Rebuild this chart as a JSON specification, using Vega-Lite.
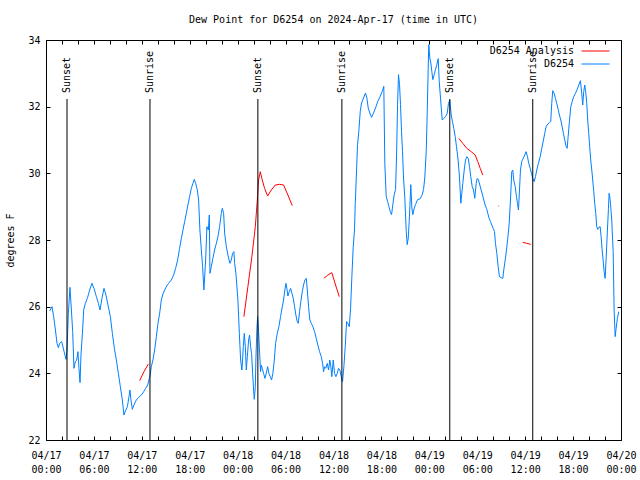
{
"$schema":"https://vega.github.io/schema/vega-lite/v6.json",
"width":575,"height":400,
"autosize":{"type":"none"},
"padding":{"left":46,"top":40,"right":19,"bottom":40},
"background":"white",
"title":{"text":"Dew Point for D6254 on 2024-Apr-17 (time in UTC)","font":"DejaVu Sans Mono","fontSize":10,"fontWeight":"normal","color":"black","offset":10,"anchor":"middle"},
"datasets":{
"sun":[{"hour":2.63,"event":"Sunset"},{"hour":13.02,"event":"Sunrise"},{"hour":26.53,"event":"Sunset"},{"hour":37.05,"event":"Sunrise"},{"hour":50.56,"event":"Sunset"},{"hour":60.95,"event":"Sunrise"}],
"analysis":[
{"hour":11.73,"dewpoint":23.78,"series":"D6254 Analysis","segment":"A"},{"hour":12.27,"dewpoint":24.05,"series":"D6254 Analysis","segment":"A"},{"hour":12.82,"dewpoint":24.28,"series":"D6254 Analysis","segment":"A"},
{"hour":24.78,"dewpoint":25.7,"series":"D6254 Analysis","segment":"B"},{"hour":25.28,"dewpoint":26.6,"series":"D6254 Analysis","segment":"B"},{"hour":25.78,"dewpoint":27.5,"series":"D6254 Analysis","segment":"B"},{"hour":26.21,"dewpoint":28.4,"series":"D6254 Analysis","segment":"B"},{"hour":26.46,"dewpoint":29.2,"series":"D6254 Analysis","segment":"B"},{"hour":26.62,"dewpoint":29.8,"series":"D6254 Analysis","segment":"B"},{"hour":26.83,"dewpoint":30.05,"series":"D6254 Analysis","segment":"B"},{"hour":27.08,"dewpoint":29.8,"series":"D6254 Analysis","segment":"B"},{"hour":27.37,"dewpoint":29.55,"series":"D6254 Analysis","segment":"B"},{"hour":27.75,"dewpoint":29.32,"series":"D6254 Analysis","segment":"B"},{"hour":28.21,"dewpoint":29.5,"series":"D6254 Analysis","segment":"B"},{"hour":28.71,"dewpoint":29.65,"series":"D6254 Analysis","segment":"B"},{"hour":29.25,"dewpoint":29.67,"series":"D6254 Analysis","segment":"B"},{"hour":29.75,"dewpoint":29.65,"series":"D6254 Analysis","segment":"B"},{"hour":30.29,"dewpoint":29.35,"series":"D6254 Analysis","segment":"B"},{"hour":30.84,"dewpoint":29.03,"series":"D6254 Analysis","segment":"B"},
{"hour":34.79,"dewpoint":26.85,"series":"D6254 Analysis","segment":"C"},{"hour":35.29,"dewpoint":26.95,"series":"D6254 Analysis","segment":"C"},{"hour":35.79,"dewpoint":27.02,"series":"D6254 Analysis","segment":"C"},{"hour":36.26,"dewpoint":26.65,"series":"D6254 Analysis","segment":"C"},{"hour":36.72,"dewpoint":26.3,"series":"D6254 Analysis","segment":"C"},
{"hour":51.69,"dewpoint":31.05,"series":"D6254 Analysis","segment":"D"},{"hour":52.19,"dewpoint":30.9,"series":"D6254 Analysis","segment":"D"},{"hour":52.69,"dewpoint":30.75,"series":"D6254 Analysis","segment":"D"},{"hour":53.24,"dewpoint":30.65,"series":"D6254 Analysis","segment":"D"},{"hour":53.74,"dewpoint":30.55,"series":"D6254 Analysis","segment":"D"},{"hour":54.07,"dewpoint":30.35,"series":"D6254 Analysis","segment":"D"},{"hour":54.37,"dewpoint":30.15,"series":"D6254 Analysis","segment":"D"},{"hour":54.69,"dewpoint":29.95,"series":"D6254 Analysis","segment":"D"},
{"hour":56.66,"dewpoint":29.02,"series":"D6254 Analysis","segment":"E"},{"hour":56.74,"dewpoint":29.02,"series":"D6254 Analysis","segment":"E"},
{"hour":59.70,"dewpoint":27.93,"series":"D6254 Analysis","segment":"F"},{"hour":60.20,"dewpoint":27.9,"series":"D6254 Analysis","segment":"F"},{"hour":60.70,"dewpoint":27.87,"series":"D6254 Analysis","segment":"F"}
],
"obs":[
{"hour":0.46,"dewpoint":25.87,"series":"D6254"},{"hour":0.75,"dewpoint":26.0,"series":"D6254"},{"hour":0.96,"dewpoint":25.7,"series":"D6254"},{"hour":1.18,"dewpoint":25.3,"series":"D6254"},{"hour":1.38,"dewpoint":24.9,"series":"D6254"},{"hour":1.55,"dewpoint":24.77,"series":"D6254"},{"hour":1.71,"dewpoint":24.9,"series":"D6254"},{"hour":1.96,"dewpoint":24.95,"series":"D6254"},{"hour":2.22,"dewpoint":24.7,"series":"D6254"},{"hour":2.50,"dewpoint":24.42,"series":"D6254"},
{"hour":2.63,"dewpoint":24.7,"series":"D6254"},{"hour":2.80,"dewpoint":25.8,"series":"D6254"},{"hour":3.00,"dewpoint":26.58,"series":"D6254"},{"hour":3.18,"dewpoint":25.9,"series":"D6254"},{"hour":3.34,"dewpoint":25.25,"series":"D6254"},{"hour":3.50,"dewpoint":24.15,"series":"D6254"},{"hour":3.68,"dewpoint":24.35,"series":"D6254"},{"hour":3.84,"dewpoint":24.4,"series":"D6254"},{"hour":4.00,"dewpoint":24.65,"series":"D6254"},{"hour":4.13,"dewpoint":24.15,"series":"D6254"},
{"hour":4.26,"dewpoint":23.72,"series":"D6254"},{"hour":4.38,"dewpoint":24.55,"series":"D6254"},{"hour":4.56,"dewpoint":25.2,"series":"D6254"},{"hour":4.72,"dewpoint":25.9,"series":"D6254"},{"hour":4.93,"dewpoint":26.1,"series":"D6254"},{"hour":5.18,"dewpoint":26.25,"series":"D6254"},{"hour":5.47,"dewpoint":26.5,"series":"D6254"},{"hour":5.76,"dewpoint":26.7,"series":"D6254"},{"hour":6.01,"dewpoint":26.55,"series":"D6254"},{"hour":6.31,"dewpoint":26.3,"series":"D6254"},
{"hour":6.56,"dewpoint":26.1,"series":"D6254"},{"hour":6.76,"dewpoint":25.9,"series":"D6254"},{"hour":7.01,"dewpoint":26.25,"series":"D6254"},{"hour":7.26,"dewpoint":26.55,"series":"D6254"},{"hour":7.51,"dewpoint":26.35,"series":"D6254"},{"hour":7.76,"dewpoint":26.05,"series":"D6254"},{"hour":8.06,"dewpoint":25.7,"series":"D6254"},{"hour":8.31,"dewpoint":25.2,"series":"D6254"},{"hour":8.56,"dewpoint":24.75,"series":"D6254"},{"hour":8.81,"dewpoint":24.4,"series":"D6254"},
{"hour":9.06,"dewpoint":24.0,"series":"D6254"},{"hour":9.31,"dewpoint":23.6,"series":"D6254"},{"hour":9.56,"dewpoint":23.2,"series":"D6254"},{"hour":9.76,"dewpoint":22.75,"series":"D6254"},{"hour":9.97,"dewpoint":22.88,"series":"D6254"},{"hour":10.19,"dewpoint":23.0,"series":"D6254"},{"hour":10.39,"dewpoint":23.3,"series":"D6254"},{"hour":10.51,"dewpoint":23.5,"series":"D6254"},{"hour":10.64,"dewpoint":23.2,"series":"D6254"},{"hour":10.81,"dewpoint":22.92,"series":"D6254"},
{"hour":11.01,"dewpoint":23.05,"series":"D6254"},{"hour":11.31,"dewpoint":23.2,"series":"D6254"},{"hour":11.60,"dewpoint":23.28,"series":"D6254"},{"hour":11.94,"dewpoint":23.35,"series":"D6254"},{"hour":12.23,"dewpoint":23.45,"series":"D6254"},{"hour":12.48,"dewpoint":23.55,"series":"D6254"},{"hour":12.73,"dewpoint":23.65,"series":"D6254"},{"hour":12.94,"dewpoint":23.85,"series":"D6254"},{"hour":13.02,"dewpoint":23.9,"series":"D6254"},{"hour":13.19,"dewpoint":24.2,"series":"D6254"},
{"hour":13.39,"dewpoint":24.4,"series":"D6254"},{"hour":13.60,"dewpoint":24.7,"series":"D6254"},{"hour":13.82,"dewpoint":25.1,"series":"D6254"},{"hour":14.02,"dewpoint":25.5,"series":"D6254"},{"hour":14.23,"dewpoint":25.8,"series":"D6254"},{"hour":14.44,"dewpoint":26.2,"series":"D6254"},{"hour":14.64,"dewpoint":26.38,"series":"D6254"},{"hour":14.86,"dewpoint":26.5,"series":"D6254"},{"hour":15.11,"dewpoint":26.62,"series":"D6254"},{"hour":15.36,"dewpoint":26.7,"series":"D6254"},
{"hour":15.69,"dewpoint":26.8,"series":"D6254"},{"hour":15.98,"dewpoint":26.95,"series":"D6254"},{"hour":16.23,"dewpoint":27.15,"series":"D6254"},{"hour":16.48,"dewpoint":27.4,"series":"D6254"},{"hour":16.73,"dewpoint":27.75,"series":"D6254"},{"hour":16.95,"dewpoint":28.05,"series":"D6254"},{"hour":17.15,"dewpoint":28.3,"series":"D6254"},{"hour":17.36,"dewpoint":28.55,"series":"D6254"},{"hour":17.57,"dewpoint":28.8,"series":"D6254"},{"hour":17.77,"dewpoint":29.05,"series":"D6254"},
{"hour":17.98,"dewpoint":29.3,"series":"D6254"},{"hour":18.20,"dewpoint":29.55,"series":"D6254"},{"hour":18.40,"dewpoint":29.7,"series":"D6254"},{"hour":18.57,"dewpoint":29.82,"series":"D6254"},{"hour":18.74,"dewpoint":29.7,"series":"D6254"},{"hour":18.95,"dewpoint":29.5,"series":"D6254"},{"hour":19.11,"dewpoint":29.2,"series":"D6254"},{"hour":19.27,"dewpoint":28.3,"series":"D6254"},{"hour":19.45,"dewpoint":27.7,"series":"D6254"},{"hour":19.61,"dewpoint":27.2,"series":"D6254"},
{"hour":19.77,"dewpoint":26.5,"series":"D6254"},{"hour":19.99,"dewpoint":27.4,"series":"D6254"},{"hour":20.15,"dewpoint":28.4,"series":"D6254"},{"hour":20.33,"dewpoint":28.3,"series":"D6254"},{"hour":20.45,"dewpoint":28.75,"series":"D6254"},{"hour":20.53,"dewpoint":27.0,"series":"D6254"},{"hour":20.70,"dewpoint":27.2,"series":"D6254"},{"hour":20.90,"dewpoint":27.45,"series":"D6254"},{"hour":21.11,"dewpoint":27.7,"series":"D6254"},{"hour":21.33,"dewpoint":27.9,"series":"D6254"},
{"hour":21.53,"dewpoint":28.1,"series":"D6254"},{"hour":21.74,"dewpoint":28.4,"series":"D6254"},{"hour":21.95,"dewpoint":28.8,"series":"D6254"},{"hour":22.08,"dewpoint":28.95,"series":"D6254"},{"hour":22.24,"dewpoint":28.8,"series":"D6254"},{"hour":22.37,"dewpoint":28.2,"series":"D6254"},{"hour":22.58,"dewpoint":27.8,"series":"D6254"},{"hour":22.78,"dewpoint":27.55,"series":"D6254"},{"hour":23.03,"dewpoint":27.3,"series":"D6254"},{"hour":23.20,"dewpoint":27.4,"series":"D6254"},
{"hour":23.37,"dewpoint":27.6,"series":"D6254"},{"hour":23.53,"dewpoint":27.65,"series":"D6254"},{"hour":23.62,"dewpoint":27.3,"series":"D6254"},{"hour":23.78,"dewpoint":27.0,"series":"D6254"},{"hour":24.03,"dewpoint":26.2,"series":"D6254"},{"hour":24.21,"dewpoint":25.2,"series":"D6254"},{"hour":24.37,"dewpoint":24.4,"series":"D6254"},{"hour":24.53,"dewpoint":24.1,"series":"D6254"},{"hour":24.71,"dewpoint":24.8,"series":"D6254"},{"hour":24.83,"dewpoint":25.2,"series":"D6254"},
{"hour":24.96,"dewpoint":24.8,"series":"D6254"},{"hour":25.08,"dewpoint":24.1,"series":"D6254"},{"hour":25.21,"dewpoint":24.5,"series":"D6254"},{"hour":25.37,"dewpoint":25.0,"series":"D6254"},{"hour":25.49,"dewpoint":25.15,"series":"D6254"},{"hour":25.62,"dewpoint":24.8,"series":"D6254"},{"hour":25.74,"dewpoint":24.6,"series":"D6254"},{"hour":25.87,"dewpoint":24.0,"series":"D6254"},{"hour":26.00,"dewpoint":23.5,"series":"D6254"},{"hour":26.08,"dewpoint":23.22,"series":"D6254"},
{"hour":26.21,"dewpoint":23.6,"series":"D6254"},{"hour":26.28,"dewpoint":24.4,"series":"D6254"},{"hour":26.41,"dewpoint":25.35,"series":"D6254"},{"hour":26.50,"dewpoint":25.7,"series":"D6254"},{"hour":26.62,"dewpoint":25.25,"series":"D6254"},{"hour":26.75,"dewpoint":24.6,"series":"D6254"},{"hour":26.87,"dewpoint":24.05,"series":"D6254"},{"hour":26.96,"dewpoint":24.25,"series":"D6254"},{"hour":27.08,"dewpoint":24.15,"series":"D6254"},{"hour":27.25,"dewpoint":24.0,"series":"D6254"},
{"hour":27.41,"dewpoint":23.85,"series":"D6254"},{"hour":27.58,"dewpoint":24.0,"series":"D6254"},{"hour":27.75,"dewpoint":24.2,"series":"D6254"},{"hour":27.91,"dewpoint":24.0,"series":"D6254"},{"hour":28.08,"dewpoint":23.9,"series":"D6254"},{"hour":28.25,"dewpoint":23.8,"series":"D6254"},{"hour":28.41,"dewpoint":24.0,"series":"D6254"},{"hour":28.59,"dewpoint":24.4,"series":"D6254"},{"hour":28.75,"dewpoint":24.9,"series":"D6254"},{"hour":28.96,"dewpoint":25.2,"series":"D6254"},
{"hour":29.16,"dewpoint":25.4,"series":"D6254"},{"hour":29.37,"dewpoint":25.7,"series":"D6254"},{"hour":29.59,"dewpoint":26.0,"series":"D6254"},{"hour":29.75,"dewpoint":26.2,"series":"D6254"},{"hour":29.91,"dewpoint":26.5,"series":"D6254"},{"hour":30.04,"dewpoint":26.7,"series":"D6254"},{"hour":30.16,"dewpoint":26.55,"series":"D6254"},{"hour":30.29,"dewpoint":26.32,"series":"D6254"},{"hour":30.46,"dewpoint":26.45,"series":"D6254"},{"hour":30.63,"dewpoint":26.55,"series":"D6254"},
{"hour":30.79,"dewpoint":26.4,"series":"D6254"},{"hour":30.96,"dewpoint":26.25,"series":"D6254"},{"hour":31.13,"dewpoint":26.0,"series":"D6254"},{"hour":31.29,"dewpoint":25.75,"series":"D6254"},{"hour":31.46,"dewpoint":25.55,"series":"D6254"},{"hour":31.59,"dewpoint":25.5,"series":"D6254"},{"hour":31.75,"dewpoint":25.85,"series":"D6254"},{"hour":31.91,"dewpoint":26.15,"series":"D6254"},{"hour":32.09,"dewpoint":26.45,"series":"D6254"},{"hour":32.25,"dewpoint":26.65,"series":"D6254"},
{"hour":32.42,"dewpoint":26.8,"series":"D6254"},{"hour":32.59,"dewpoint":26.85,"series":"D6254"},{"hour":32.72,"dewpoint":26.5,"series":"D6254"},{"hour":32.88,"dewpoint":26.0,"series":"D6254"},{"hour":33.04,"dewpoint":25.6,"series":"D6254"},{"hour":33.22,"dewpoint":25.5,"series":"D6254"},{"hour":33.42,"dewpoint":25.4,"series":"D6254"},{"hour":33.63,"dewpoint":25.25,"series":"D6254"},{"hour":33.84,"dewpoint":25.05,"series":"D6254"},{"hour":34.04,"dewpoint":24.85,"series":"D6254"},
{"hour":34.26,"dewpoint":24.65,"series":"D6254"},{"hour":34.47,"dewpoint":24.5,"series":"D6254"},{"hour":34.63,"dewpoint":24.3,"series":"D6254"},{"hour":34.76,"dewpoint":24.05,"series":"D6254"},{"hour":34.88,"dewpoint":24.2,"series":"D6254"},{"hour":35.04,"dewpoint":24.15,"series":"D6254"},{"hour":35.22,"dewpoint":24.3,"series":"D6254"},{"hour":35.38,"dewpoint":24.1,"series":"D6254"},{"hour":35.54,"dewpoint":24.4,"series":"D6254"},{"hour":35.67,"dewpoint":24.2,"series":"D6254"},
{"hour":35.79,"dewpoint":23.9,"series":"D6254"},{"hour":35.97,"dewpoint":24.4,"series":"D6254"},{"hour":36.13,"dewpoint":24.0,"series":"D6254"},{"hour":36.30,"dewpoint":23.9,"series":"D6254"},{"hour":36.47,"dewpoint":24.0,"series":"D6254"},{"hour":36.63,"dewpoint":24.15,"series":"D6254"},{"hour":36.80,"dewpoint":24.1,"series":"D6254"},{"hour":36.97,"dewpoint":23.9,"series":"D6254"},{"hour":37.13,"dewpoint":23.75,"series":"D6254"},{"hour":37.30,"dewpoint":24.2,"series":"D6254"},
{"hour":37.47,"dewpoint":24.8,"series":"D6254"},{"hour":37.64,"dewpoint":25.55,"series":"D6254"},{"hour":37.80,"dewpoint":25.5,"series":"D6254"},{"hour":37.97,"dewpoint":25.4,"series":"D6254"},{"hour":38.13,"dewpoint":25.9,"series":"D6254"},{"hour":38.30,"dewpoint":26.9,"series":"D6254"},{"hour":38.47,"dewpoint":27.8,"series":"D6254"},{"hour":38.63,"dewpoint":28.3,"series":"D6254"},{"hour":38.72,"dewpoint":29.06,"series":"D6254"},{"hour":38.85,"dewpoint":29.86,"series":"D6254"},
{"hour":39.01,"dewpoint":30.86,"series":"D6254"},{"hour":39.17,"dewpoint":31.26,"series":"D6254"},{"hour":39.35,"dewpoint":31.86,"series":"D6254"},{"hour":39.51,"dewpoint":32.11,"series":"D6254"},{"hour":39.76,"dewpoint":32.26,"series":"D6254"},{"hour":40.01,"dewpoint":32.41,"series":"D6254"},{"hour":40.18,"dewpoint":32.26,"series":"D6254"},{"hour":40.35,"dewpoint":31.96,"series":"D6254"},{"hour":40.55,"dewpoint":31.81,"series":"D6254"},{"hour":40.76,"dewpoint":31.68,"series":"D6254"},
{"hour":41.01,"dewpoint":31.81,"series":"D6254"},{"hour":41.26,"dewpoint":31.96,"series":"D6254"},{"hour":41.55,"dewpoint":32.16,"series":"D6254"},{"hour":41.85,"dewpoint":32.31,"series":"D6254"},{"hour":42.10,"dewpoint":32.46,"series":"D6254"},{"hour":42.30,"dewpoint":32.61,"series":"D6254"},{"hour":42.43,"dewpoint":30.26,"series":"D6254"},{"hour":42.60,"dewpoint":29.31,"series":"D6254"},{"hour":42.77,"dewpoint":29.16,"series":"D6254"},{"hour":42.93,"dewpoint":29.01,"series":"D6254"},
{"hour":43.10,"dewpoint":28.86,"series":"D6254"},{"hour":43.27,"dewpoint":28.76,"series":"D6254"},{"hour":43.43,"dewpoint":29.06,"series":"D6254"},{"hour":43.60,"dewpoint":29.36,"series":"D6254"},{"hour":43.77,"dewpoint":29.51,"series":"D6254"},{"hour":43.89,"dewpoint":30.46,"series":"D6254"},{"hour":44.02,"dewpoint":32.06,"series":"D6254"},{"hour":44.14,"dewpoint":32.96,"series":"D6254"},{"hour":44.27,"dewpoint":32.66,"series":"D6254"},{"hour":44.39,"dewpoint":32.06,"series":"D6254"},
{"hour":44.52,"dewpoint":31.26,"series":"D6254"},{"hour":44.64,"dewpoint":30.66,"series":"D6254"},{"hour":44.77,"dewpoint":29.86,"series":"D6254"},{"hour":44.93,"dewpoint":29.26,"series":"D6254"},{"hour":45.11,"dewpoint":28.26,"series":"D6254"},{"hour":45.23,"dewpoint":27.86,"series":"D6254"},{"hour":45.36,"dewpoint":28.06,"series":"D6254"},{"hour":45.48,"dewpoint":28.56,"series":"D6254"},{"hour":45.61,"dewpoint":29.26,"series":"D6254"},{"hour":45.68,"dewpoint":29.66,"series":"D6254"},
{"hour":45.81,"dewpoint":28.96,"series":"D6254"},{"hour":45.93,"dewpoint":28.76,"series":"D6254"},{"hour":46.11,"dewpoint":28.96,"series":"D6254"},{"hour":46.27,"dewpoint":29.06,"series":"D6254"},{"hour":46.52,"dewpoint":29.21,"series":"D6254"},{"hour":46.86,"dewpoint":29.24,"series":"D6254"},{"hour":47.11,"dewpoint":29.36,"series":"D6254"},{"hour":47.27,"dewpoint":29.51,"series":"D6254"},{"hour":47.43,"dewpoint":29.86,"series":"D6254"},{"hour":47.61,"dewpoint":30.66,"series":"D6254"},
{"hour":47.73,"dewpoint":31.76,"series":"D6254"},{"hour":47.86,"dewpoint":33.16,"series":"D6254"},{"hour":47.93,"dewpoint":33.86,"series":"D6254"},{"hour":48.06,"dewpoint":33.46,"series":"D6254"},{"hour":48.19,"dewpoint":33.31,"series":"D6254"},{"hour":48.31,"dewpoint":33.06,"series":"D6254"},{"hour":48.44,"dewpoint":32.81,"series":"D6254"},{"hour":48.61,"dewpoint":32.96,"series":"D6254"},{"hour":48.77,"dewpoint":33.11,"series":"D6254"},{"hour":48.94,"dewpoint":33.26,"series":"D6254"},
{"hour":49.11,"dewpoint":33.44,"series":"D6254"},{"hour":49.24,"dewpoint":32.76,"series":"D6254"},{"hour":49.40,"dewpoint":32.26,"series":"D6254"},{"hour":49.61,"dewpoint":31.6,"series":"D6254"},{"hour":49.81,"dewpoint":31.65,"series":"D6254"},{"hour":50.03,"dewpoint":31.7,"series":"D6254"},{"hour":50.24,"dewpoint":31.8,"series":"D6254"},{"hour":50.40,"dewpoint":32.1,"series":"D6254"},{"hour":50.56,"dewpoint":32.2,"series":"D6254"},{"hour":50.74,"dewpoint":31.75,"series":"D6254"},
{"hour":50.90,"dewpoint":31.55,"series":"D6254"},{"hour":51.06,"dewpoint":31.35,"series":"D6254"},{"hour":51.24,"dewpoint":31.1,"series":"D6254"},{"hour":51.40,"dewpoint":30.8,"series":"D6254"},{"hour":51.56,"dewpoint":30.5,"series":"D6254"},{"hour":51.74,"dewpoint":30.0,"series":"D6254"},{"hour":51.86,"dewpoint":29.5,"series":"D6254"},{"hour":51.94,"dewpoint":29.1,"series":"D6254"},{"hour":52.07,"dewpoint":29.4,"series":"D6254"},{"hour":52.19,"dewpoint":29.7,"series":"D6254"},
{"hour":52.37,"dewpoint":30.1,"series":"D6254"},{"hour":52.53,"dewpoint":30.4,"series":"D6254"},{"hour":52.69,"dewpoint":30.5,"series":"D6254"},{"hour":52.87,"dewpoint":30.45,"series":"D6254"},{"hour":53.03,"dewpoint":30.2,"series":"D6254"},{"hour":53.19,"dewpoint":29.9,"series":"D6254"},{"hour":53.37,"dewpoint":29.6,"series":"D6254"},{"hour":53.53,"dewpoint":29.5,"series":"D6254"},{"hour":53.69,"dewpoint":29.25,"series":"D6254"},{"hour":53.87,"dewpoint":29.7,"series":"D6254"},
{"hour":53.99,"dewpoint":29.85,"series":"D6254"},{"hour":54.16,"dewpoint":29.8,"series":"D6254"},{"hour":54.32,"dewpoint":29.65,"series":"D6254"},{"hour":54.49,"dewpoint":29.5,"series":"D6254"},{"hour":54.66,"dewpoint":29.35,"series":"D6254"},{"hour":54.82,"dewpoint":29.2,"series":"D6254"},{"hour":54.99,"dewpoint":29.05,"series":"D6254"},{"hour":55.16,"dewpoint":28.95,"series":"D6254"},{"hour":55.32,"dewpoint":28.8,"series":"D6254"},{"hour":55.49,"dewpoint":28.65,"series":"D6254"},
{"hour":55.66,"dewpoint":28.55,"series":"D6254"},{"hour":55.82,"dewpoint":28.45,"series":"D6254"},{"hour":55.99,"dewpoint":28.35,"series":"D6254"},{"hour":56.16,"dewpoint":28.25,"series":"D6254"},{"hour":56.28,"dewpoint":27.9,"series":"D6254"},{"hour":56.45,"dewpoint":27.6,"series":"D6254"},{"hour":56.62,"dewpoint":27.2,"series":"D6254"},{"hour":56.78,"dewpoint":26.9,"series":"D6254"},{"hour":56.99,"dewpoint":26.87,"series":"D6254"},{"hour":57.20,"dewpoint":26.85,"series":"D6254"},
{"hour":57.32,"dewpoint":27.1,"series":"D6254"},{"hour":57.50,"dewpoint":27.4,"series":"D6254"},{"hour":57.66,"dewpoint":27.7,"series":"D6254"},{"hour":57.82,"dewpoint":28.05,"series":"D6254"},{"hour":58.00,"dewpoint":28.5,"series":"D6254"},{"hour":58.16,"dewpoint":29.2,"series":"D6254"},{"hour":58.32,"dewpoint":30.05,"series":"D6254"},{"hour":58.45,"dewpoint":30.1,"series":"D6254"},{"hour":58.57,"dewpoint":29.8,"series":"D6254"},{"hour":58.75,"dewpoint":29.6,"series":"D6254"},
{"hour":58.91,"dewpoint":29.3,"series":"D6254"},{"hour":59.04,"dewpoint":29.1,"series":"D6254"},{"hour":59.16,"dewpoint":28.9,"series":"D6254"},{"hour":59.29,"dewpoint":29.5,"series":"D6254"},{"hour":59.41,"dewpoint":30.1,"series":"D6254"},{"hour":59.57,"dewpoint":30.35,"series":"D6254"},{"hour":59.75,"dewpoint":30.45,"series":"D6254"},{"hour":59.95,"dewpoint":30.55,"series":"D6254"},{"hour":60.12,"dewpoint":30.65,"series":"D6254"},{"hour":60.29,"dewpoint":30.5,"series":"D6254"},
{"hour":60.45,"dewpoint":30.3,"series":"D6254"},{"hour":60.63,"dewpoint":30.15,"series":"D6254"},{"hour":60.79,"dewpoint":30.0,"series":"D6254"},{"hour":60.95,"dewpoint":29.85,"series":"D6254"},{"hour":61.13,"dewpoint":29.75,"series":"D6254"},{"hour":61.29,"dewpoint":29.9,"series":"D6254"},{"hour":61.45,"dewpoint":30.1,"series":"D6254"},{"hour":61.66,"dewpoint":30.3,"series":"D6254"},{"hour":61.88,"dewpoint":30.5,"series":"D6254"},{"hour":62.08,"dewpoint":30.75,"series":"D6254"},
{"hour":62.29,"dewpoint":31.0,"series":"D6254"},{"hour":62.45,"dewpoint":31.2,"series":"D6254"},{"hour":62.63,"dewpoint":31.4,"series":"D6254"},{"hour":62.83,"dewpoint":31.48,"series":"D6254"},{"hour":63.04,"dewpoint":31.52,"series":"D6254"},{"hour":63.20,"dewpoint":31.55,"series":"D6254"},{"hour":63.33,"dewpoint":32.1,"series":"D6254"},{"hour":63.45,"dewpoint":32.48,"series":"D6254"},{"hour":63.63,"dewpoint":32.4,"series":"D6254"},{"hour":63.79,"dewpoint":32.25,"series":"D6254"},
{"hour":63.95,"dewpoint":32.1,"series":"D6254"},{"hour":64.13,"dewpoint":31.92,"series":"D6254"},{"hour":64.29,"dewpoint":31.75,"series":"D6254"},{"hour":64.46,"dewpoint":31.6,"series":"D6254"},{"hour":64.63,"dewpoint":31.4,"series":"D6254"},{"hour":64.79,"dewpoint":31.2,"series":"D6254"},{"hour":64.96,"dewpoint":31.0,"series":"D6254"},{"hour":65.13,"dewpoint":30.8,"series":"D6254"},{"hour":65.26,"dewpoint":30.75,"series":"D6254"},{"hour":65.38,"dewpoint":31.1,"series":"D6254"},
{"hour":65.54,"dewpoint":31.55,"series":"D6254"},{"hour":65.71,"dewpoint":32.0,"series":"D6254"},{"hour":65.88,"dewpoint":32.15,"series":"D6254"},{"hour":66.08,"dewpoint":32.3,"series":"D6254"},{"hour":66.30,"dewpoint":32.4,"series":"D6254"},{"hour":66.51,"dewpoint":32.52,"series":"D6254"},{"hour":66.71,"dewpoint":32.65,"series":"D6254"},{"hour":66.92,"dewpoint":32.78,"series":"D6254"},{"hour":67.08,"dewpoint":32.4,"series":"D6254"},{"hour":67.21,"dewpoint":32.05,"series":"D6254"},
{"hour":67.33,"dewpoint":32.45,"series":"D6254"},{"hour":67.46,"dewpoint":32.65,"series":"D6254"},{"hour":67.58,"dewpoint":32.45,"series":"D6254"},{"hour":67.71,"dewpoint":32.1,"series":"D6254"},{"hour":67.83,"dewpoint":31.6,"series":"D6254"},{"hour":67.96,"dewpoint":31.2,"series":"D6254"},{"hour":68.08,"dewpoint":30.8,"series":"D6254"},{"hour":68.21,"dewpoint":30.4,"series":"D6254"},{"hour":68.34,"dewpoint":30.1,"series":"D6254"},{"hour":68.46,"dewpoint":29.8,"series":"D6254"},
{"hour":68.59,"dewpoint":29.45,"series":"D6254"},{"hour":68.71,"dewpoint":29.1,"series":"D6254"},{"hour":68.84,"dewpoint":28.8,"series":"D6254"},{"hour":68.96,"dewpoint":28.4,"series":"D6254"},{"hour":69.09,"dewpoint":28.32,"series":"D6254"},{"hour":69.21,"dewpoint":28.38,"series":"D6254"},{"hour":69.39,"dewpoint":28.4,"series":"D6254"},{"hour":69.51,"dewpoint":28.1,"series":"D6254"},{"hour":69.64,"dewpoint":27.7,"series":"D6254"},{"hour":69.76,"dewpoint":27.4,"series":"D6254"},
{"hour":69.89,"dewpoint":27.05,"series":"D6254"},{"hour":70.01,"dewpoint":26.85,"series":"D6254"},{"hour":70.14,"dewpoint":27.45,"series":"D6254"},{"hour":70.30,"dewpoint":28.3,"series":"D6254"},{"hour":70.43,"dewpoint":28.95,"series":"D6254"},{"hour":70.51,"dewpoint":29.4,"series":"D6254"},{"hour":70.59,"dewpoint":29.3,"series":"D6254"},{"hour":70.68,"dewpoint":29.1,"series":"D6254"},{"hour":70.84,"dewpoint":28.6,"series":"D6254"},{"hour":71.02,"dewpoint":27.65,"series":"D6254"},
{"hour":71.14,"dewpoint":25.9,"series":"D6254"},{"hour":71.27,"dewpoint":25.1,"series":"D6254"},{"hour":71.39,"dewpoint":25.35,"series":"D6254"},{"hour":71.55,"dewpoint":25.65,"series":"D6254"},{"hour":71.72,"dewpoint":25.85,"series":"D6254"}
]
},
"layer":[
{"data":{"name":"obs"},
 "mark":{"type":"line","strokeWidth":1},
 "encoding":{
  "x":{"field":"hour","type":"quantitative","scale":{"domain":[0,72],"nice":false,"zero":false},
       "axis":{"orient":"bottom","title":null,"values":[0,2,4,6,8,10,12,14,16,18,20,22,24,26,28,30,32,34,36,38,40,42,44,46,48,50,52,54,56,58,60,62,64,66,68,70,72],
               "labelExpr":"datum.value % 6 == 0 ? ['04/' + (17 + floor(datum.value / 24)), (datum.value % 24 < 10 ? '0' : '') + (datum.value % 24) + ':00'] : ''",
               "tickSize":-4,"labelPadding":14,"labelFlush":false,"labelOverlap":false,"labelBound":false,"labelLineHeight":14,"labelBaseline":"top"}},
  "y":{"field":"dewpoint","type":"quantitative","scale":{"domain":[22,34],"nice":false,"zero":false},
       "axis":{"orient":"left","title":"degrees F","values":[22,24,26,28,30,32,34],"tickSize":-4,"labelPadding":10,"titlePadding":12,"labelFlush":false,"labelOverlap":false}},
  "color":{"field":"series","type":"nominal","scale":{"domain":["D6254 Analysis","D6254"],"range":["#ff0000","#0080ff"]},
       "legend":{"orient":"none","legendX":445,"legendY":6,"title":null,"symbolType":"M-4,0H4","symbolSize":49,"symbolStrokeWidth":1,"symbolOffset":99.5,"labelOffset":-26.5,"labelAlign":"right","labelFont":"DejaVu Sans Mono","labelFontSize":10,"labelColor":"black","rowPadding":3,"padding":0,"direction":"vertical"}}
 }},
{"data":{"name":"analysis"},
 "mark":{"type":"line","strokeWidth":1},
 "encoding":{
  "x":{"field":"hour","type":"quantitative","scale":{"domain":[0,72],"nice":false,"zero":false},"axis":null},
  "y":{"field":"dewpoint","type":"quantitative","scale":{"domain":[22,34],"nice":false,"zero":false},"axis":null},
  "color":{"field":"series","type":"nominal"},
  "detail":{"field":"segment","type":"nominal"}
 }},
{"data":{"name":"sun"},
 "mark":{"type":"rule","color":"black","strokeWidth":1},
 "encoding":{
  "x":{"field":"hour","type":"quantitative","scale":{"domain":[0,72],"nice":false,"zero":false},
       "axis":{"orient":"top","title":null,"labels":false,"tickSize":-4,"values":[0,2,4,6,8,10,12,14,16,18,20,22,24,26,28,30,32,34,36,38,40,42,44,46,48,50,52,54,56,58,60,62,64,66,68,70,72]}},
  "y":{"datum":22,"type":"quantitative","scale":{"domain":[22,34],"nice":false,"zero":false},
       "axis":{"orient":"right","title":null,"labels":false,"tickSize":-4,"values":[22,24,26,28,30,32,34]}},
  "y2":{"datum":32.23}
 }},
{"data":{"name":"sun"},
 "mark":{"type":"text","angle":270,"align":"left","baseline":"middle","font":"DejaVu Sans Mono","fontSize":10,"color":"black"},
 "encoding":{
  "x":{"field":"hour","type":"quantitative","scale":{"domain":[0,72],"nice":false,"zero":false},"axis":null},
  "y":{"datum":32.41,"type":"quantitative","scale":{"domain":[22,34],"nice":false,"zero":false},"axis":null},
  "text":{"field":"event","type":"nominal"}
 }}
],
"resolve":{"axis":{"x":"independent","y":"independent"}},
"config":{
 "view":{"stroke":"black","strokeWidth":1},
 "axis":{"domain":false,"grid":false,"tickColor":"black","tickWidth":1,"labelFont":"DejaVu Sans Mono","labelFontSize":10,"labelColor":"black","titleFont":"DejaVu Sans Mono","titleFontSize":10,"titleFontWeight":"normal","titleColor":"black"}
}
}
